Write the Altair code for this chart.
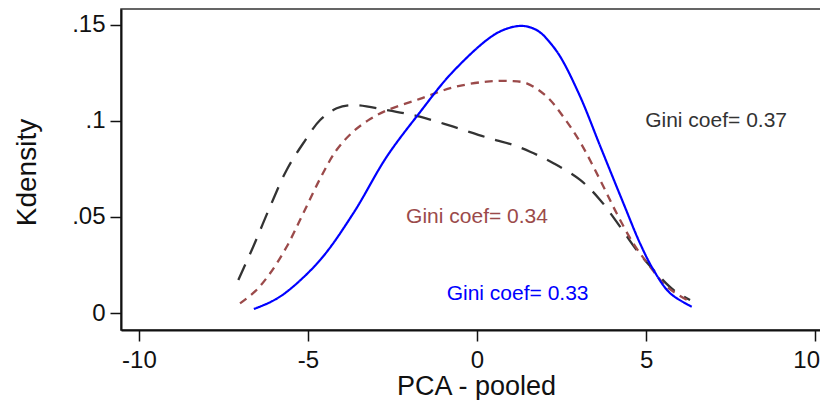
import altair as alt
import pandas as pd

# ---- data ----
blue_x = [-6.60, -6.10, -5.63, -4.64, -3.66, -2.67, -1.69, -0.80, 0.29, 0.78, 1.27, 1.60, 1.86, 2.10, 2.46, 3.05, 3.64, 4.33, 4.82, 5.22, 5.71, 6.35]
blue_y = [0.0021, 0.0058, 0.0110, 0.0276, 0.0519, 0.0814, 0.1045, 0.1240, 0.1422, 0.1474, 0.1495, 0.1486, 0.1462, 0.1420, 0.1335, 0.1127, 0.0870, 0.0571, 0.0363, 0.0224, 0.0103, 0.0033]

red_x = [-7.01, -6.55, -6.12, -5.63, -5.14, -4.64, -4.15, -3.66, -3.16, -2.67, -1.69, -0.70, 0.29, 0.98, 1.47, 2.06, 2.55, 3.05, 3.64, 4.13, 4.62, 5.12, 5.61, 6.30]
red_y = [0.0050, 0.0115, 0.0207, 0.0345, 0.0519, 0.0700, 0.0850, 0.0945, 0.1010, 0.1055, 0.1115, 0.1175, 0.1205, 0.1208, 0.1196, 0.1127, 0.1022, 0.0890, 0.0693, 0.0519, 0.0363, 0.0241, 0.0137, 0.0059]

black_x = [-7.06, -6.62, -6.12, -5.63, -5.14, -4.64, -4.15, -3.66, -2.67, -1.69, -0.70, 0.29, 1.07, 1.57, 2.26, 3.05, 3.64, 4.23, 4.72, 5.22, 5.81, 6.30]
black_y = [0.0172, 0.0345, 0.0554, 0.0745, 0.0884, 0.1005, 0.1066, 0.1083, 0.1057, 0.1022, 0.0970, 0.0914, 0.0875, 0.0840, 0.0780, 0.0693, 0.0589, 0.0450, 0.0328, 0.0224, 0.0120, 0.0068]

label_text = ["Gini coef= 0.37", "Gini coef= 0.34", "Gini coef= 0.33"]
label_x = [7.07, 0.0, 1.2]
label_y = [0.100, 0.050, 0.010]
label_color = ["#333333", "#9b4a4a", "#0000ff"]

x_ticks = [-10, -5, 0, 5, 10]
y_ticks = [0, 0.05, 0.1, 0.15]

FONT = "Liberation Sans"

x_scale = alt.Scale(domain=[-10.53, 10.38], nice=False, zero=False)
y_scale = alt.Scale(domain=[-0.00885, 0.1583], nice=False, zero=False)

x_axis = alt.Axis(
    values=x_ticks, labelExpr="'' + datum.value", title="PCA - pooled",
    grid=False, tickSize=11, tickWidth=1.5, domainWidth=2, domainColor="#111",
    tickColor="#111", labelFontSize=24, labelColor="#111", labelFont=FONT,
    labelBaseline="alphabetic", labelPadding=26, labelFlush=False,
    labelOffset={"expr": "datum.value == 10 ? -9 : 0"},
    titleFontSize=27, titleFont=FONT, titleFontWeight="normal", titleColor="#111",
    titleX=355, titleY=64, titleBaseline="alphabetic", titleAlign="center",
)
y_axis = alt.Axis(
    values=y_ticks,
    labelExpr="datum.value == 0 ? '0' : replace(format(datum.value, '.2~f'), '0.', '.')",
    title="Kdensity", grid=False, tickSize=11, tickWidth=1.5, domainWidth=2,
    domainColor="#111", tickColor="#111", labelFontSize=24, labelColor="#111",
    labelFont=FONT, labelPadding=5, labelFlush=False,
    titleFontSize=28, titleFont=FONT, titleFontWeight="normal", titleColor="#111",
    titleX=-86, titleY=163, titleAngle=270, titleBaseline="alphabetic", titleAlign="center",
)


def curve(xs, ys, color, dash, width):
    df = pd.DataFrame({"x": xs, "y": ys})
    return alt.Chart(df).mark_line(
        color=color, strokeDash=dash, strokeWidth=width, interpolate="catmull-rom", clip=True
    ).encode(
        x=alt.X("x:Q", scale=x_scale, axis=x_axis),
        y=alt.Y("y:Q", scale=y_scale, axis=y_axis),
    )


black_line = curve(black_x, black_y, "#333333", [17, 11], 2.3)
red_line = curve(red_x, red_y, "#9b4a4a", [8, 6], 2.3)
blue_line = curve(blue_x, blue_y, "#0000ff", [1, 0], 2.2)

labels_df = pd.DataFrame({"x": label_x, "y": label_y, "t": label_text, "c": label_color})
labels = alt.Chart(labels_df).mark_text(
    fontSize=21, font=FONT, align="center", baseline="middle"
).encode(
    x=alt.X("x:Q", scale=x_scale, axis=x_axis),
    y=alt.Y("y:Q", scale=y_scale, axis=y_axis),
    text="t:N",
    color=alt.Color("c:N", scale=None),
)

chart = alt.layer(black_line, red_line, blue_line, labels).properties(
    width=707, height=321,
    padding={"left": 113, "top": 1, "right": -8, "bottom": 70},
    autosize=alt.AutoSizeParams(type="none"),
    background="white",
).configure_view(stroke="#333333", strokeWidth=1.5)

chart.save("out.html", embed_options={"renderer": "svg", "actions": False})
